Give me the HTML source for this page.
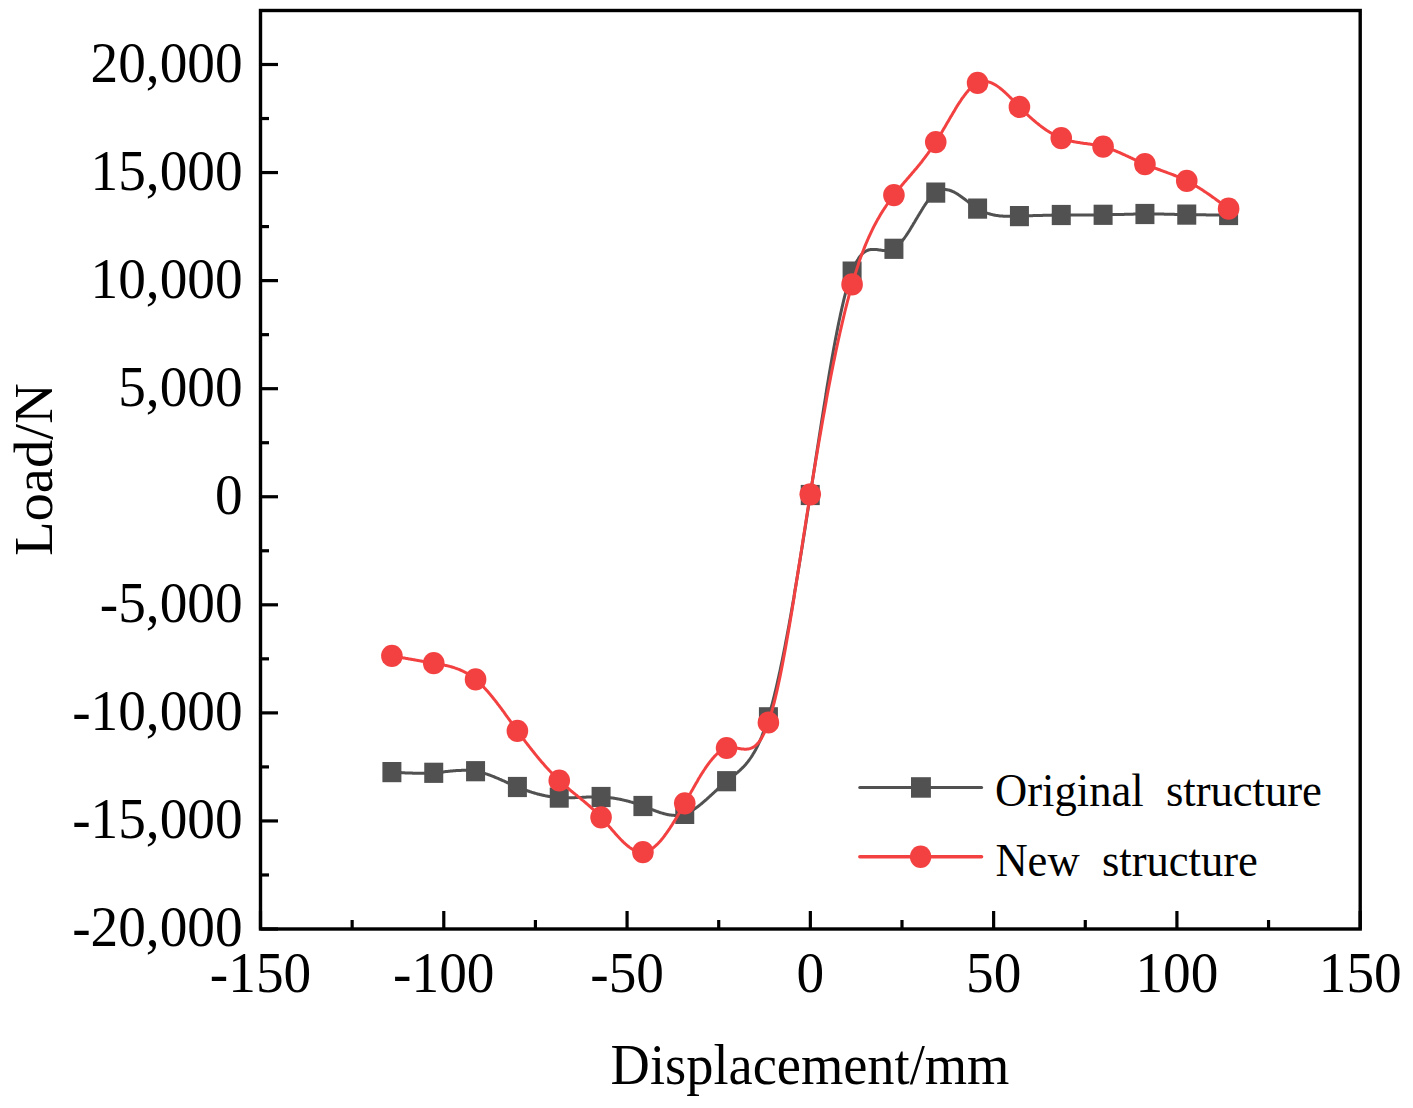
<!DOCTYPE html>
<html><head><meta charset="utf-8"><title>Load-Displacement</title>
<style>
html,body{margin:0;padding:0;background:#fff;}
body{width:1413px;height:1108px;overflow:hidden;font-family:"Liberation Serif",serif;}
svg{display:block;}
.t{font-family:"Liberation Serif",serif;fill:#000;}
</style></head><body>
<svg width="1413" height="1108" viewBox="0 0 1413 1108">
<rect x="0" y="0" width="1413" height="1108" fill="#fff"/>
<rect x="260.5" y="10.5" width="1099.7" height="918.5" fill="none" stroke="#000" stroke-width="3.4"/>
<line x1="260.5" y1="64.50" x2="278.0" y2="64.50" stroke="#000" stroke-width="3.2"/>
<line x1="260.5" y1="118.53" x2="269.0" y2="118.53" stroke="#000" stroke-width="3.2"/>
<line x1="260.5" y1="172.56" x2="278.0" y2="172.56" stroke="#000" stroke-width="3.2"/>
<line x1="260.5" y1="226.59" x2="269.0" y2="226.59" stroke="#000" stroke-width="3.2"/>
<line x1="260.5" y1="280.62" x2="278.0" y2="280.62" stroke="#000" stroke-width="3.2"/>
<line x1="260.5" y1="334.66" x2="269.0" y2="334.66" stroke="#000" stroke-width="3.2"/>
<line x1="260.5" y1="388.69" x2="278.0" y2="388.69" stroke="#000" stroke-width="3.2"/>
<line x1="260.5" y1="442.72" x2="269.0" y2="442.72" stroke="#000" stroke-width="3.2"/>
<line x1="260.5" y1="496.75" x2="278.0" y2="496.75" stroke="#000" stroke-width="3.2"/>
<line x1="260.5" y1="550.78" x2="269.0" y2="550.78" stroke="#000" stroke-width="3.2"/>
<line x1="260.5" y1="604.81" x2="278.0" y2="604.81" stroke="#000" stroke-width="3.2"/>
<line x1="260.5" y1="658.84" x2="269.0" y2="658.84" stroke="#000" stroke-width="3.2"/>
<line x1="260.5" y1="712.88" x2="278.0" y2="712.88" stroke="#000" stroke-width="3.2"/>
<line x1="260.5" y1="766.91" x2="269.0" y2="766.91" stroke="#000" stroke-width="3.2"/>
<line x1="260.5" y1="820.94" x2="278.0" y2="820.94" stroke="#000" stroke-width="3.2"/>
<line x1="260.5" y1="874.97" x2="269.0" y2="874.97" stroke="#000" stroke-width="3.2"/>
<line x1="260.5" y1="929.00" x2="278.0" y2="929.00" stroke="#000" stroke-width="3.2"/>
<text transform="translate(242.60,81.60) scale(1.0,1.05)" text-anchor="end" font-size="55.3" class="t">20,000</text>
<text transform="translate(242.60,189.66) scale(1.0,1.05)" text-anchor="end" font-size="55.3" class="t">15,000</text>
<text transform="translate(242.60,297.73) scale(1.0,1.05)" text-anchor="end" font-size="55.3" class="t">10,000</text>
<text transform="translate(242.60,405.79) scale(1.0,1.05)" text-anchor="end" font-size="55.3" class="t">5,000</text>
<text transform="translate(242.60,513.85) scale(1.0,1.05)" text-anchor="end" font-size="55.3" class="t">0</text>
<text transform="translate(242.60,621.91) scale(1.0,1.05)" text-anchor="end" font-size="55.3" class="t">-5,000</text>
<text transform="translate(242.60,729.98) scale(1.0,1.05)" text-anchor="end" font-size="55.3" class="t">-10,000</text>
<text transform="translate(242.60,838.04) scale(1.0,1.05)" text-anchor="end" font-size="55.3" class="t">-15,000</text>
<text transform="translate(242.60,946.10) scale(1.0,1.05)" text-anchor="end" font-size="55.3" class="t">-20,000</text>
<line x1="260.50" y1="929.0" x2="260.50" y2="911.0" stroke="#000" stroke-width="3.2"/>
<line x1="352.14" y1="929.0" x2="352.14" y2="920.0" stroke="#000" stroke-width="3.2"/>
<line x1="443.78" y1="929.0" x2="443.78" y2="911.0" stroke="#000" stroke-width="3.2"/>
<line x1="535.42" y1="929.0" x2="535.42" y2="920.0" stroke="#000" stroke-width="3.2"/>
<line x1="627.07" y1="929.0" x2="627.07" y2="911.0" stroke="#000" stroke-width="3.2"/>
<line x1="718.71" y1="929.0" x2="718.71" y2="920.0" stroke="#000" stroke-width="3.2"/>
<line x1="810.35" y1="929.0" x2="810.35" y2="911.0" stroke="#000" stroke-width="3.2"/>
<line x1="901.99" y1="929.0" x2="901.99" y2="920.0" stroke="#000" stroke-width="3.2"/>
<line x1="993.63" y1="929.0" x2="993.63" y2="911.0" stroke="#000" stroke-width="3.2"/>
<line x1="1085.28" y1="929.0" x2="1085.28" y2="920.0" stroke="#000" stroke-width="3.2"/>
<line x1="1176.92" y1="929.0" x2="1176.92" y2="911.0" stroke="#000" stroke-width="3.2"/>
<line x1="1268.56" y1="929.0" x2="1268.56" y2="920.0" stroke="#000" stroke-width="3.2"/>
<line x1="1360.20" y1="929.0" x2="1360.20" y2="911.0" stroke="#000" stroke-width="3.2"/>
<text transform="translate(260.50,992.20) scale(1.0,1.05)" text-anchor="middle" font-size="55.3" class="t">-150</text>
<text transform="translate(443.78,992.20) scale(1.0,1.05)" text-anchor="middle" font-size="55.3" class="t">-100</text>
<text transform="translate(627.07,992.20) scale(1.0,1.05)" text-anchor="middle" font-size="55.3" class="t">-50</text>
<text transform="translate(810.35,992.20) scale(1.0,1.05)" text-anchor="middle" font-size="55.3" class="t">0</text>
<text transform="translate(993.63,992.20) scale(1.0,1.05)" text-anchor="middle" font-size="55.3" class="t">50</text>
<text transform="translate(1176.92,992.20) scale(1.0,1.05)" text-anchor="middle" font-size="55.3" class="t">100</text>
<text transform="translate(1360.20,992.20) scale(1.0,1.05)" text-anchor="middle" font-size="55.3" class="t">150</text>
<text transform="translate(810.00,1083.90) scale(1.0,1.046)" text-anchor="middle" font-size="54.4" class="t">Displacement/mm</text>
<text transform="translate(52.30,469.60) rotate(-90) scale(1.02,1.0)" text-anchor="middle" font-size="55.5" class="t">Load/N</text>
<path d="M391.9,772.1 L392.6,772.1 L393.3,772.2 L394.0,772.2 L394.7,772.3 L395.4,772.3 L396.1,772.4 L396.8,772.4 L397.5,772.4 L398.2,772.5 L398.9,772.5 L399.6,772.6 L400.3,772.6 L401.0,772.6 L401.7,772.7 L402.4,772.7 L403.1,772.8 L403.8,772.8 L404.5,772.8 L405.2,772.9 L405.9,772.9 L406.6,772.9 L407.3,773.0 L408.0,773.0 L408.6,773.0 L409.3,773.0 L410.0,773.1 L410.7,773.1 L411.4,773.1 L412.1,773.1 L412.8,773.2 L413.5,773.2 L414.2,773.2 L414.9,773.2 L415.6,773.2 L416.3,773.2 L417.0,773.2 L417.7,773.3 L418.4,773.3 L419.1,773.3 L419.8,773.3 L420.5,773.3 L421.2,773.3 L421.9,773.3 L422.6,773.3 L423.3,773.2 L424.0,773.2 L424.7,773.2 L425.4,773.2 L426.1,773.2 L426.8,773.2 L427.5,773.1 L428.2,773.1 L428.9,773.1 L429.6,773.1 L430.3,773.0 L431.0,773.0 L431.7,772.9 L432.4,772.9 L433.1,772.8 L433.8,772.8 L434.5,772.7 L435.2,772.7 L435.9,772.6 L436.6,772.6 L437.3,772.5 L438.0,772.4 L438.7,772.4 L439.4,772.3 L440.1,772.2 L440.7,772.2 L441.4,772.1 L442.1,772.0 L442.8,771.9 L443.5,771.9 L444.2,771.8 L444.9,771.7 L445.6,771.6 L446.3,771.5 L447.0,771.5 L447.7,771.4 L448.4,771.3 L449.1,771.2 L449.8,771.2 L450.5,771.1 L451.2,771.0 L451.9,771.0 L452.6,770.9 L453.3,770.8 L454.0,770.8 L454.7,770.7 L455.4,770.7 L456.1,770.6 L456.8,770.6 L457.5,770.5 L458.2,770.5 L458.9,770.4 L459.6,770.4 L460.3,770.4 L461.0,770.4 L461.7,770.3 L462.4,770.3 L463.1,770.3 L463.8,770.3 L464.5,770.3 L465.2,770.3 L465.9,770.3 L466.6,770.3 L467.3,770.4 L468.0,770.4 L468.7,770.4 L469.4,770.5 L470.1,770.5 L470.8,770.6 L471.5,770.6 L472.2,770.7 L472.8,770.8 L473.5,770.9 L474.2,771.0 L474.9,771.1 L475.6,771.2 L476.3,771.3 L477.0,771.5 L477.7,771.6 L478.4,771.8 L479.1,771.9 L479.8,772.1 L480.5,772.3 L481.2,772.4 L481.9,772.6 L482.6,772.8 L483.3,773.0 L484.0,773.2 L484.7,773.4 L485.4,773.7 L486.1,773.9 L486.8,774.1 L487.5,774.3 L488.2,774.6 L488.9,774.8 L489.6,775.1 L490.3,775.3 L491.0,775.6 L491.7,775.9 L492.4,776.2 L493.1,776.4 L493.8,776.7 L494.5,777.0 L495.2,777.3 L495.9,777.6 L496.6,777.9 L497.3,778.2 L498.0,778.4 L498.7,778.7 L499.4,779.1 L500.1,779.4 L500.8,779.7 L501.5,780.0 L502.2,780.3 L502.9,780.6 L503.6,780.9 L504.3,781.2 L504.9,781.5 L505.6,781.8 L506.3,782.2 L507.0,782.5 L507.7,782.8 L508.4,783.1 L509.1,783.4 L509.8,783.7 L510.5,784.0 L511.2,784.3 L511.9,784.6 L512.6,785.0 L513.3,785.3 L514.0,785.6 L514.7,785.9 L515.4,786.2 L516.1,786.5 L516.8,786.8 L517.5,787.0 L518.2,787.3 L518.9,787.6 L519.6,787.9 L520.3,788.2 L521.0,788.4 L521.7,788.7 L522.4,789.0 L523.1,789.3 L523.8,789.5 L524.5,789.8 L525.2,790.0 L525.9,790.3 L526.6,790.5 L527.3,790.8 L528.0,791.0 L528.7,791.2 L529.4,791.5 L530.1,791.7 L530.8,791.9 L531.5,792.2 L532.2,792.4 L532.9,792.6 L533.6,792.8 L534.3,793.0 L535.0,793.2 L535.7,793.4 L536.4,793.6 L537.0,793.8 L537.7,794.0 L538.4,794.2 L539.1,794.3 L539.8,794.5 L540.5,794.7 L541.2,794.8 L541.9,795.0 L542.6,795.2 L543.3,795.3 L544.0,795.5 L544.7,795.6 L545.4,795.8 L546.1,795.9 L546.8,796.0 L547.5,796.2 L548.2,796.3 L548.9,796.4 L549.6,796.5 L550.3,796.6 L551.0,796.7 L551.7,796.8 L552.4,796.9 L553.1,797.0 L553.8,797.1 L554.5,797.2 L555.2,797.3 L555.9,797.3 L556.6,797.4 L557.3,797.5 L558.0,797.5 L558.7,797.6 L559.4,797.6 L560.1,797.7 L560.8,797.7 L561.5,797.7 L562.2,797.8 L562.9,797.8 L563.6,797.8 L564.3,797.8 L565.0,797.8 L565.7,797.8 L566.4,797.8 L567.1,797.8 L567.8,797.8 L568.5,797.8 L569.1,797.8 L569.8,797.8 L570.5,797.8 L571.2,797.8 L571.9,797.8 L572.6,797.7 L573.3,797.7 L574.0,797.7 L574.7,797.7 L575.4,797.6 L576.1,797.6 L576.8,797.6 L577.5,797.6 L578.2,797.5 L578.9,797.5 L579.6,797.5 L580.3,797.4 L581.0,797.4 L581.7,797.4 L582.4,797.3 L583.1,797.3 L583.8,797.3 L584.5,797.2 L585.2,797.2 L585.9,797.2 L586.6,797.1 L587.3,797.1 L588.0,797.1 L588.7,797.0 L589.4,797.0 L590.1,797.0 L590.8,797.0 L591.5,797.0 L592.2,796.9 L592.9,796.9 L593.6,796.9 L594.3,796.9 L595.0,796.9 L595.7,796.9 L596.4,796.9 L597.1,796.9 L597.8,796.9 L598.5,796.9 L599.2,796.9 L599.9,797.0 L600.6,797.0 L601.2,797.0 L601.9,797.0 L602.6,797.1 L603.3,797.1 L604.0,797.2 L604.7,797.2 L605.4,797.3 L606.1,797.3 L606.8,797.4 L607.5,797.4 L608.2,797.5 L608.9,797.6 L609.6,797.7 L610.3,797.8 L611.0,797.8 L611.7,797.9 L612.4,798.0 L613.1,798.1 L613.8,798.2 L614.5,798.3 L615.2,798.4 L615.9,798.6 L616.6,798.7 L617.3,798.8 L618.0,798.9 L618.7,799.1 L619.4,799.2 L620.1,799.3 L620.8,799.5 L621.5,799.6 L622.2,799.8 L622.9,799.9 L623.6,800.1 L624.3,800.3 L625.0,800.4 L625.7,800.6 L626.4,800.8 L627.1,801.0 L627.8,801.1 L628.5,801.3 L629.2,801.5 L629.9,801.7 L630.6,801.9 L631.3,802.1 L632.0,802.3 L632.7,802.5 L633.3,802.7 L634.0,802.9 L634.7,803.2 L635.4,803.4 L636.1,803.6 L636.8,803.8 L637.5,804.1 L638.2,804.3 L638.9,804.6 L639.6,804.8 L640.3,805.1 L641.0,805.3 L641.7,805.6 L642.4,805.8 L643.1,806.1 L643.8,806.3 L644.5,806.6 L645.2,806.9 L645.9,807.2 L646.6,807.4 L647.3,807.7 L648.0,808.0 L648.7,808.3 L649.4,808.5 L650.1,808.8 L650.8,809.1 L651.5,809.4 L652.2,809.6 L652.9,809.9 L653.6,810.2 L654.3,810.5 L655.0,810.7 L655.7,811.0 L656.4,811.2 L657.1,811.5 L657.8,811.7 L658.5,812.0 L659.2,812.2 L659.9,812.5 L660.6,812.7 L661.3,812.9 L662.0,813.1 L662.7,813.3 L663.4,813.5 L664.1,813.7 L664.8,813.9 L665.4,814.1 L666.1,814.2 L666.8,814.4 L667.5,814.5 L668.2,814.7 L668.9,814.8 L669.6,814.9 L670.3,815.0 L671.0,815.1 L671.7,815.2 L672.4,815.3 L673.1,815.3 L673.8,815.3 L674.5,815.4 L675.2,815.4 L675.9,815.4 L676.6,815.4 L677.3,815.3 L678.0,815.3 L678.7,815.2 L679.4,815.1 L680.1,815.0 L680.8,814.9 L681.5,814.8 L682.2,814.6 L682.9,814.4 L683.6,814.3 L684.3,814.0 L685.0,813.8 L685.7,813.6 L686.4,813.3 L687.1,813.0 L687.8,812.7 L688.5,812.4 L689.2,812.0 L689.9,811.7 L690.6,811.3 L691.3,810.9 L692.0,810.5 L692.7,810.1 L693.4,809.7 L694.1,809.2 L694.8,808.8 L695.5,808.3 L696.2,807.8 L696.9,807.3 L697.6,806.8 L698.2,806.3 L698.9,805.7 L699.6,805.2 L700.3,804.6 L701.0,804.1 L701.7,803.5 L702.4,802.9 L703.1,802.3 L703.8,801.7 L704.5,801.1 L705.2,800.5 L705.9,799.9 L706.6,799.3 L707.3,798.6 L708.0,798.0 L708.7,797.4 L709.4,796.7 L710.1,796.1 L710.8,795.4 L711.5,794.8 L712.2,794.2 L712.9,793.5 L713.6,792.9 L714.3,792.2 L715.0,791.6 L715.7,790.9 L716.4,790.3 L717.1,789.6 L717.8,789.0 L718.5,788.3 L719.2,787.7 L719.9,787.0 L720.6,786.4 L721.3,785.8 L722.0,785.2 L722.7,784.5 L723.4,783.9 L724.1,783.3 L724.8,782.7 L725.5,782.1 L726.2,781.5 L726.9,781.0 L727.6,780.4 L728.3,779.8 L729.0,779.3 L729.7,778.7 L730.3,778.2 L731.0,777.6 L731.7,777.1 L732.4,776.5 L733.1,776.0 L733.8,775.4 L734.5,774.9 L735.2,774.3 L735.9,773.8 L736.6,773.2 L737.3,772.6 L738.0,772.0 L738.7,771.4 L739.4,770.8 L740.1,770.1 L740.8,769.5 L741.5,768.8 L742.2,768.1 L742.9,767.4 L743.6,766.7 L744.3,765.9 L745.0,765.2 L745.7,764.4 L746.4,763.5 L747.1,762.7 L747.8,761.8 L748.5,760.9 L749.2,760.0 L749.9,759.0 L750.6,758.0 L751.3,757.0 L752.0,755.9 L752.7,754.8 L753.4,753.6 L754.1,752.4 L754.8,751.2 L755.5,750.0 L756.2,748.6 L756.9,747.3 L757.6,745.9 L758.3,744.4 L759.0,742.9 L759.7,741.4 L760.4,739.8 L761.1,738.2 L761.8,736.5 L762.4,734.7 L763.1,732.9 L763.8,731.0 L764.5,729.1 L765.2,727.1 L765.9,725.1 L766.6,723.0 L767.3,720.8 L768.0,718.6 L768.7,716.3 L769.4,713.9 L770.1,711.5 L770.8,709.0 L771.5,706.4 L772.2,703.8 L772.9,701.1 L773.6,698.4 L774.3,695.6 L775.0,692.7 L775.7,689.8 L776.4,686.8 L777.1,683.8 L777.8,680.7 L778.5,677.6 L779.2,674.4 L779.9,671.2 L780.6,667.9 L781.3,664.6 L782.0,661.2 L782.7,657.8 L783.4,654.3 L784.1,650.8 L784.8,647.2 L785.5,643.6 L786.2,639.9 L786.9,636.3 L787.6,632.5 L788.3,628.7 L789.0,624.9 L789.7,621.1 L790.4,617.2 L791.1,613.3 L791.8,609.3 L792.5,605.3 L793.2,601.3 L793.9,597.2 L794.5,593.1 L795.2,589.0 L795.9,584.9 L796.6,580.7 L797.3,576.5 L798.0,572.3 L798.7,568.0 L799.4,563.7 L800.1,559.4 L800.8,555.1 L801.5,550.8 L802.2,546.4 L802.9,542.0 L803.6,537.6 L804.3,533.2 L805.0,528.7 L805.7,524.3 L806.4,519.8 L807.1,515.3 L807.8,510.8 L808.5,506.3 L809.2,501.8 L809.9,497.3 L810.6,492.7 L811.3,488.2 L812.0,483.6 L812.7,479.1 L813.4,474.5 L814.1,470.0 L814.8,465.4 L815.5,460.8 L816.2,456.3 L816.9,451.7 L817.6,447.2 L818.3,442.7 L819.0,438.2 L819.7,433.7 L820.4,429.2 L821.1,424.7 L821.8,420.3 L822.5,415.9 L823.2,411.4 L823.9,407.1 L824.6,402.7 L825.3,398.4 L826.0,394.1 L826.6,389.8 L827.3,385.6 L828.0,381.4 L828.7,377.3 L829.4,373.1 L830.1,369.1 L830.8,365.0 L831.5,361.0 L832.2,357.1 L832.9,353.2 L833.6,349.3 L834.3,345.5 L835.0,341.8 L835.7,338.1 L836.4,334.5 L837.1,330.9 L837.8,327.4 L838.5,323.9 L839.2,320.5 L839.9,317.2 L840.6,313.9 L841.3,310.8 L842.0,307.6 L842.7,304.6 L843.4,301.6 L844.1,298.7 L844.8,295.9 L845.5,293.2 L846.2,290.5 L846.9,288.0 L847.6,285.5 L848.3,283.1 L849.0,280.8 L849.7,278.5 L850.4,276.4 L851.1,274.4 L851.8,272.4 L852.5,270.6 L853.2,268.9 L853.9,267.2 L854.6,265.7 L855.3,264.2 L856.0,262.8 L856.7,261.5 L857.4,260.3 L858.1,259.2 L858.7,258.1 L859.4,257.1 L860.1,256.2 L860.8,255.4 L861.5,254.6 L862.2,253.9 L862.9,253.2 L863.6,252.7 L864.3,252.1 L865.0,251.7 L865.7,251.2 L866.4,250.9 L867.1,250.5 L867.8,250.3 L868.5,250.0 L869.2,249.8 L869.9,249.7 L870.6,249.6 L871.3,249.5 L872.0,249.4 L872.7,249.4 L873.4,249.4 L874.1,249.4 L874.8,249.4 L875.5,249.5 L876.2,249.5 L876.9,249.6 L877.6,249.7 L878.3,249.8 L879.0,249.9 L879.7,250.0 L880.4,250.1 L881.1,250.2 L881.8,250.3 L882.5,250.4 L883.2,250.5 L883.9,250.6 L884.6,250.6 L885.3,250.7 L886.0,250.7 L886.7,250.7 L887.4,250.7 L888.1,250.6 L888.8,250.6 L889.5,250.4 L890.2,250.3 L890.8,250.1 L891.5,249.9 L892.2,249.6 L892.9,249.3 L893.6,249.0 L894.3,248.6 L895.0,248.1 L895.7,247.6 L896.4,247.0 L897.1,246.5 L897.8,245.8 L898.5,245.1 L899.2,244.4 L899.9,243.7 L900.6,242.9 L901.3,242.1 L902.0,241.2 L902.7,240.3 L903.4,239.4 L904.1,238.5 L904.8,237.5 L905.5,236.5 L906.2,235.5 L906.9,234.4 L907.6,233.4 L908.3,232.3 L909.0,231.2 L909.7,230.1 L910.4,228.9 L911.1,227.8 L911.8,226.6 L912.5,225.5 L913.2,224.3 L913.9,223.1 L914.6,222.0 L915.3,220.8 L916.0,219.6 L916.7,218.4 L917.4,217.3 L918.1,216.1 L918.8,214.9 L919.5,213.8 L920.2,212.6 L920.9,211.5 L921.6,210.3 L922.3,209.2 L922.9,208.1 L923.6,207.0 L924.3,206.0 L925.0,204.9 L925.7,203.9 L926.4,202.9 L927.1,201.9 L927.8,201.0 L928.5,200.1 L929.2,199.2 L929.9,198.3 L930.6,197.5 L931.3,196.7 L932.0,196.0 L932.7,195.2 L933.4,194.6 L934.1,193.9 L934.8,193.3 L935.5,192.8 L936.2,192.3 L936.9,191.8 L937.6,191.4 L938.3,191.0 L939.0,190.7 L939.7,190.4 L940.4,190.2 L941.1,190.0 L941.8,189.8 L942.5,189.7 L943.2,189.6 L943.9,189.5 L944.6,189.5 L945.3,189.5 L946.0,189.6 L946.7,189.7 L947.4,189.8 L948.1,189.9 L948.8,190.1 L949.5,190.2 L950.2,190.5 L950.9,190.7 L951.6,191.0 L952.3,191.3 L953.0,191.6 L953.7,191.9 L954.4,192.3 L955.1,192.6 L955.7,193.0 L956.4,193.4 L957.1,193.9 L957.8,194.3 L958.5,194.8 L959.2,195.2 L959.9,195.7 L960.6,196.2 L961.3,196.7 L962.0,197.2 L962.7,197.7 L963.4,198.2 L964.1,198.7 L964.8,199.3 L965.5,199.8 L966.2,200.4 L966.9,200.9 L967.6,201.4 L968.3,202.0 L969.0,202.5 L969.7,203.0 L970.4,203.6 L971.1,204.1 L971.8,204.6 L972.5,205.1 L973.2,205.6 L973.9,206.1 L974.6,206.6 L975.3,207.1 L976.0,207.6 L976.7,208.0 L977.4,208.5 L978.1,208.9 L978.8,209.3 L979.5,209.7 L980.2,210.1 L980.9,210.4 L981.6,210.8 L982.3,211.1 L983.0,211.5 L983.7,211.8 L984.4,212.1 L985.1,212.4 L985.8,212.6 L986.5,212.9 L987.2,213.1 L987.8,213.4 L988.5,213.6 L989.2,213.8 L989.9,214.0 L990.6,214.2 L991.3,214.4 L992.0,214.6 L992.7,214.7 L993.4,214.9 L994.1,215.0 L994.8,215.2 L995.5,215.3 L996.2,215.4 L996.9,215.5 L997.6,215.6 L998.3,215.7 L999.0,215.8 L999.7,215.9 L1000.4,216.0 L1001.1,216.0 L1001.8,216.1 L1002.5,216.1 L1003.2,216.2 L1003.9,216.2 L1004.6,216.2 L1005.3,216.3 L1006.0,216.3 L1006.7,216.3 L1007.4,216.3 L1008.1,216.3 L1008.8,216.3 L1009.5,216.3 L1010.2,216.3 L1010.9,216.3 L1011.6,216.3 L1012.3,216.3 L1013.0,216.3 L1013.7,216.3 L1014.4,216.3 L1015.1,216.2 L1015.8,216.2 L1016.5,216.2 L1017.2,216.2 L1017.9,216.2 L1018.6,216.1 L1019.3,216.1 L1019.9,216.1 L1020.6,216.1 L1021.3,216.0 L1022.0,216.0 L1022.7,216.0 L1023.4,216.0 L1024.1,215.9 L1024.8,215.9 L1025.5,215.9 L1026.2,215.9 L1026.9,215.8 L1027.6,215.8 L1028.3,215.8 L1029.0,215.8 L1029.7,215.7 L1030.4,215.7 L1031.1,215.7 L1031.8,215.7 L1032.5,215.7 L1033.2,215.6 L1033.9,215.6 L1034.6,215.6 L1035.3,215.6 L1036.0,215.5 L1036.7,215.5 L1037.4,215.5 L1038.1,215.5 L1038.8,215.5 L1039.5,215.4 L1040.2,215.4 L1040.9,215.4 L1041.6,215.4 L1042.3,215.4 L1043.0,215.3 L1043.7,215.3 L1044.4,215.3 L1045.1,215.3 L1045.8,215.3 L1046.5,215.3 L1047.2,215.2 L1047.9,215.2 L1048.6,215.2 L1049.3,215.2 L1050.0,215.2 L1050.7,215.2 L1051.4,215.2 L1052.0,215.1 L1052.7,215.1 L1053.4,215.1 L1054.1,215.1 L1054.8,215.1 L1055.5,215.1 L1056.2,215.1 L1056.9,215.1 L1057.6,215.0 L1058.3,215.0 L1059.0,215.0 L1059.7,215.0 L1060.4,215.0 L1061.1,215.0 L1061.8,215.0 L1062.5,215.0 L1063.2,215.0 L1063.9,215.0 L1064.6,215.0 L1065.3,215.0 L1066.0,215.0 L1066.7,215.0 L1067.4,215.0 L1068.1,214.9 L1068.8,214.9 L1069.5,214.9 L1070.2,214.9 L1070.9,214.9 L1071.6,214.9 L1072.3,214.9 L1073.0,214.9 L1073.7,214.9 L1074.4,214.9 L1075.1,214.9 L1075.8,214.9 L1076.5,214.9 L1077.2,214.9 L1077.9,214.9 L1078.6,214.9 L1079.3,214.9 L1080.0,214.9 L1080.7,214.9 L1081.4,214.9 L1082.1,214.9 L1082.8,214.9 L1083.5,214.9 L1084.1,214.9 L1084.8,214.9 L1085.5,214.9 L1086.2,214.9 L1086.9,214.9 L1087.6,214.9 L1088.3,214.9 L1089.0,214.9 L1089.7,214.9 L1090.4,214.9 L1091.1,214.9 L1091.8,214.9 L1092.5,214.9 L1093.2,214.9 L1093.9,214.9 L1094.6,214.9 L1095.3,214.9 L1096.0,214.9 L1096.7,214.9 L1097.4,214.9 L1098.1,214.9 L1098.8,214.9 L1099.5,214.8 L1100.2,214.8 L1100.9,214.8 L1101.6,214.8 L1102.3,214.8 L1103.0,214.8 L1103.7,214.8 L1104.4,214.8 L1105.1,214.8 L1105.8,214.8 L1106.5,214.7 L1107.2,214.7 L1107.9,214.7 L1108.6,214.7 L1109.3,214.7 L1110.0,214.7 L1110.7,214.7 L1111.4,214.6 L1112.1,214.6 L1112.8,214.6 L1113.5,214.6 L1114.2,214.6 L1114.9,214.6 L1115.6,214.6 L1116.2,214.5 L1116.9,214.5 L1117.6,214.5 L1118.3,214.5 L1119.0,214.5 L1119.7,214.5 L1120.4,214.4 L1121.1,214.4 L1121.8,214.4 L1122.5,214.4 L1123.2,214.4 L1123.9,214.4 L1124.6,214.3 L1125.3,214.3 L1126.0,214.3 L1126.7,214.3 L1127.4,214.3 L1128.1,214.3 L1128.8,214.2 L1129.5,214.2 L1130.2,214.2 L1130.9,214.2 L1131.6,214.2 L1132.3,214.2 L1133.0,214.2 L1133.7,214.1 L1134.4,214.1 L1135.1,214.1 L1135.8,214.1 L1136.5,214.1 L1137.2,214.1 L1137.9,214.1 L1138.6,214.1 L1139.3,214.0 L1140.0,214.0 L1140.7,214.0 L1141.4,214.0 L1142.1,214.0 L1142.8,214.0 L1143.5,214.0 L1144.2,214.0 L1144.9,214.0 L1145.6,214.0 L1146.3,214.0 L1147.0,214.0 L1147.7,214.0 L1148.3,214.0 L1149.0,214.0 L1149.7,214.0 L1150.4,214.0 L1151.1,214.0 L1151.8,214.0 L1152.5,214.0 L1153.2,214.0 L1153.9,214.0 L1154.6,214.0 L1155.3,214.0 L1156.0,214.0 L1156.7,214.0 L1157.4,214.1 L1158.1,214.1 L1158.8,214.1 L1159.5,214.1 L1160.2,214.1 L1160.9,214.1 L1161.6,214.1 L1162.3,214.1 L1163.0,214.1 L1163.7,214.1 L1164.4,214.2 L1165.1,214.2 L1165.8,214.2 L1166.5,214.2 L1167.2,214.2 L1167.9,214.2 L1168.6,214.2 L1169.3,214.2 L1170.0,214.3 L1170.7,214.3 L1171.4,214.3 L1172.1,214.3 L1172.8,214.3 L1173.5,214.3 L1174.2,214.3 L1174.9,214.4 L1175.6,214.4 L1176.3,214.4 L1177.0,214.4 L1177.7,214.4 L1178.4,214.4 L1179.1,214.5 L1179.8,214.5 L1180.4,214.5 L1181.1,214.5 L1181.8,214.5 L1182.5,214.5 L1183.2,214.5 L1183.9,214.5 L1184.6,214.6 L1185.3,214.6 L1186.0,214.6 L1186.7,214.6 L1187.4,214.6 L1188.1,214.6 L1188.8,214.6 L1189.5,214.6 L1190.2,214.7 L1190.9,214.7 L1191.6,214.7 L1192.3,214.7 L1193.0,214.7 L1193.7,214.7 L1194.4,214.7 L1195.1,214.7 L1195.8,214.7 L1196.5,214.7 L1197.2,214.8 L1197.9,214.8 L1198.6,214.8 L1199.3,214.8 L1200.0,214.8 L1200.7,214.8 L1201.4,214.8 L1202.1,214.8 L1202.8,214.8 L1203.5,214.8 L1204.2,214.8 L1204.9,214.8 L1205.6,214.8 L1206.3,214.9 L1207.0,214.9 L1207.7,214.9 L1208.4,214.9 L1209.1,214.9 L1209.8,214.9 L1210.5,214.9 L1211.2,214.9 L1211.9,214.9 L1212.5,214.9 L1213.2,214.9 L1213.9,214.9 L1214.6,214.9 L1215.3,214.9 L1216.0,214.9 L1216.7,214.9 L1217.4,214.9 L1218.1,214.9 L1218.8,214.9 L1219.5,214.9 L1220.2,215.0 L1220.9,215.0 L1221.6,215.0 L1222.3,215.0 L1223.0,215.0 L1223.7,215.0 L1224.4,215.0 L1225.1,215.0 L1225.8,215.0 L1226.5,215.0 L1227.2,215.0 L1227.9,215.0 L1228.6,215.0" fill="none" stroke="#515151" stroke-width="3.0" stroke-linejoin="round" stroke-linecap="round"/>
<rect x="382.40" y="762.00" width="19.0" height="20.2" fill="#515151"/>
<rect x="424.24" y="762.70" width="19.0" height="20.2" fill="#515151"/>
<rect x="466.07" y="761.10" width="19.0" height="20.2" fill="#515151"/>
<rect x="507.90" y="776.90" width="19.0" height="20.2" fill="#515151"/>
<rect x="549.74" y="787.50" width="19.0" height="20.2" fill="#515151"/>
<rect x="591.58" y="786.90" width="19.0" height="20.2" fill="#515151"/>
<rect x="633.41" y="795.90" width="19.0" height="20.2" fill="#515151"/>
<rect x="675.25" y="803.80" width="19.0" height="20.2" fill="#515151"/>
<rect x="717.08" y="771.10" width="19.0" height="20.2" fill="#515151"/>
<rect x="758.91" y="707.20" width="19.0" height="20.2" fill="#515151"/>
<rect x="800.75" y="484.90" width="19.0" height="20.2" fill="#515151"/>
<rect x="842.59" y="261.50" width="19.0" height="20.2" fill="#515151"/>
<rect x="884.42" y="238.70" width="19.0" height="20.2" fill="#515151"/>
<rect x="926.25" y="182.50" width="19.0" height="20.2" fill="#515151"/>
<rect x="968.09" y="198.50" width="19.0" height="20.2" fill="#515151"/>
<rect x="1009.92" y="206.00" width="19.0" height="20.2" fill="#515151"/>
<rect x="1051.76" y="204.90" width="19.0" height="20.2" fill="#515151"/>
<rect x="1093.60" y="204.70" width="19.0" height="20.2" fill="#515151"/>
<rect x="1135.43" y="203.90" width="19.0" height="20.2" fill="#515151"/>
<rect x="1177.26" y="204.50" width="19.0" height="20.2" fill="#515151"/>
<rect x="1219.10" y="204.90" width="19.0" height="20.2" fill="#515151"/>
<path d="M391.9,655.9 L392.6,656.0 L393.3,656.1 L394.0,656.3 L394.7,656.4 L395.4,656.5 L396.1,656.6 L396.8,656.8 L397.5,656.9 L398.2,657.0 L398.9,657.1 L399.6,657.3 L400.3,657.4 L401.0,657.5 L401.7,657.6 L402.4,657.7 L403.1,657.9 L403.8,658.0 L404.5,658.1 L405.2,658.2 L405.9,658.4 L406.6,658.5 L407.3,658.6 L408.0,658.7 L408.6,658.9 L409.3,659.0 L410.0,659.1 L410.7,659.2 L411.4,659.3 L412.1,659.5 L412.8,659.6 L413.5,659.7 L414.2,659.8 L414.9,660.0 L415.6,660.1 L416.3,660.2 L417.0,660.3 L417.7,660.4 L418.4,660.6 L419.1,660.7 L419.8,660.8 L420.5,660.9 L421.2,661.0 L421.9,661.2 L422.6,661.3 L423.3,661.4 L424.0,661.5 L424.7,661.7 L425.4,661.8 L426.1,661.9 L426.8,662.0 L427.5,662.1 L428.2,662.3 L428.9,662.4 L429.6,662.5 L430.3,662.6 L431.0,662.7 L431.7,662.8 L432.4,663.0 L433.1,663.1 L433.8,663.2 L434.5,663.3 L435.2,663.4 L435.9,663.6 L436.6,663.7 L437.3,663.8 L438.0,663.9 L438.7,664.0 L439.4,664.2 L440.1,664.3 L440.7,664.4 L441.4,664.6 L442.1,664.7 L442.8,664.8 L443.5,665.0 L444.2,665.1 L444.9,665.3 L445.6,665.4 L446.3,665.6 L447.0,665.7 L447.7,665.9 L448.4,666.1 L449.1,666.2 L449.8,666.4 L450.5,666.6 L451.2,666.8 L451.9,667.0 L452.6,667.2 L453.3,667.4 L454.0,667.6 L454.7,667.9 L455.4,668.1 L456.1,668.4 L456.8,668.6 L457.5,668.9 L458.2,669.1 L458.9,669.4 L459.6,669.7 L460.3,670.0 L461.0,670.3 L461.7,670.6 L462.4,670.9 L463.1,671.3 L463.8,671.6 L464.5,672.0 L465.2,672.4 L465.9,672.7 L466.6,673.1 L467.3,673.5 L468.0,674.0 L468.7,674.4 L469.4,674.8 L470.1,675.3 L470.8,675.8 L471.5,676.2 L472.2,676.7 L472.8,677.3 L473.5,677.8 L474.2,678.3 L474.9,678.9 L475.6,679.5 L476.3,680.0 L477.0,680.6 L477.7,681.3 L478.4,681.9 L479.1,682.5 L479.8,683.2 L480.5,683.9 L481.2,684.6 L481.9,685.3 L482.6,686.0 L483.3,686.7 L484.0,687.4 L484.7,688.2 L485.4,688.9 L486.1,689.7 L486.8,690.5 L487.5,691.3 L488.2,692.1 L488.9,692.9 L489.6,693.7 L490.3,694.6 L491.0,695.4 L491.7,696.3 L492.4,697.1 L493.1,698.0 L493.8,698.9 L494.5,699.7 L495.2,700.6 L495.9,701.5 L496.6,702.4 L497.3,703.3 L498.0,704.3 L498.7,705.2 L499.4,706.1 L500.1,707.0 L500.8,708.0 L501.5,708.9 L502.2,709.8 L502.9,710.8 L503.6,711.7 L504.3,712.7 L504.9,713.7 L505.6,714.6 L506.3,715.6 L507.0,716.5 L507.7,717.5 L508.4,718.5 L509.1,719.4 L509.8,720.4 L510.5,721.4 L511.2,722.4 L511.9,723.3 L512.6,724.3 L513.3,725.3 L514.0,726.2 L514.7,727.2 L515.4,728.2 L516.1,729.1 L516.8,730.1 L517.5,731.0 L518.2,732.0 L518.9,732.9 L519.6,733.9 L520.3,734.8 L521.0,735.8 L521.7,736.7 L522.4,737.7 L523.1,738.6 L523.8,739.5 L524.5,740.4 L525.2,741.4 L525.9,742.3 L526.6,743.2 L527.3,744.1 L528.0,745.0 L528.7,745.9 L529.4,746.8 L530.1,747.7 L530.8,748.6 L531.5,749.5 L532.2,750.4 L532.9,751.3 L533.6,752.1 L534.3,753.0 L535.0,753.9 L535.7,754.7 L536.4,755.6 L537.0,756.4 L537.7,757.3 L538.4,758.1 L539.1,758.9 L539.8,759.8 L540.5,760.6 L541.2,761.4 L541.9,762.2 L542.6,763.0 L543.3,763.8 L544.0,764.6 L544.7,765.4 L545.4,766.2 L546.1,767.0 L546.8,767.8 L547.5,768.5 L548.2,769.3 L548.9,770.1 L549.6,770.8 L550.3,771.5 L551.0,772.3 L551.7,773.0 L552.4,773.7 L553.1,774.5 L553.8,775.2 L554.5,775.9 L555.2,776.6 L555.9,777.3 L556.6,778.0 L557.3,778.6 L558.0,779.3 L558.7,780.0 L559.4,780.6 L560.1,781.3 L560.8,781.9 L561.5,782.6 L562.2,783.2 L562.9,783.8 L563.6,784.4 L564.3,785.1 L565.0,785.7 L565.7,786.3 L566.4,786.9 L567.1,787.5 L567.8,788.0 L568.5,788.6 L569.1,789.2 L569.8,789.8 L570.5,790.4 L571.2,791.0 L571.9,791.5 L572.6,792.1 L573.3,792.7 L574.0,793.2 L574.7,793.8 L575.4,794.4 L576.1,794.9 L576.8,795.5 L577.5,796.1 L578.2,796.6 L578.9,797.2 L579.6,797.8 L580.3,798.3 L581.0,798.9 L581.7,799.5 L582.4,800.1 L583.1,800.6 L583.8,801.2 L584.5,801.8 L585.2,802.4 L585.9,803.0 L586.6,803.6 L587.3,804.2 L588.0,804.8 L588.7,805.4 L589.4,806.0 L590.1,806.6 L590.8,807.3 L591.5,807.9 L592.2,808.5 L592.9,809.2 L593.6,809.8 L594.3,810.5 L595.0,811.1 L595.7,811.8 L596.4,812.5 L597.1,813.2 L597.8,813.9 L598.5,814.6 L599.2,815.3 L599.9,816.0 L600.6,816.7 L601.2,817.5 L601.9,818.2 L602.6,819.0 L603.3,819.8 L604.0,820.6 L604.7,821.3 L605.4,822.1 L606.1,822.9 L606.8,823.7 L607.5,824.5 L608.2,825.3 L608.9,826.2 L609.6,827.0 L610.3,827.8 L611.0,828.6 L611.7,829.4 L612.4,830.2 L613.1,831.0 L613.8,831.8 L614.5,832.6 L615.2,833.4 L615.9,834.2 L616.6,835.0 L617.3,835.8 L618.0,836.5 L618.7,837.3 L619.4,838.0 L620.1,838.8 L620.8,839.5 L621.5,840.2 L622.2,840.9 L622.9,841.6 L623.6,842.3 L624.3,842.9 L625.0,843.6 L625.7,844.2 L626.4,844.8 L627.1,845.4 L627.8,846.0 L628.5,846.5 L629.2,847.1 L629.9,847.6 L630.6,848.1 L631.3,848.5 L632.0,849.0 L632.7,849.4 L633.3,849.8 L634.0,850.1 L634.7,850.5 L635.4,850.8 L636.1,851.1 L636.8,851.3 L637.5,851.6 L638.2,851.8 L638.9,851.9 L639.6,852.0 L640.3,852.1 L641.0,852.2 L641.7,852.2 L642.4,852.2 L643.1,852.2 L643.8,852.1 L644.5,852.0 L645.2,851.8 L645.9,851.6 L646.6,851.4 L647.3,851.2 L648.0,850.9 L648.7,850.6 L649.4,850.2 L650.1,849.8 L650.8,849.4 L651.5,849.0 L652.2,848.5 L652.9,848.0 L653.6,847.5 L654.3,846.9 L655.0,846.3 L655.7,845.7 L656.4,845.0 L657.1,844.4 L657.8,843.7 L658.5,843.0 L659.2,842.2 L659.9,841.5 L660.6,840.7 L661.3,839.9 L662.0,839.0 L662.7,838.2 L663.4,837.3 L664.1,836.4 L664.8,835.5 L665.4,834.5 L666.1,833.6 L666.8,832.6 L667.5,831.6 L668.2,830.6 L668.9,829.6 L669.6,828.6 L670.3,827.5 L671.0,826.4 L671.7,825.4 L672.4,824.3 L673.1,823.1 L673.8,822.0 L674.5,820.9 L675.2,819.7 L675.9,818.6 L676.6,817.4 L677.3,816.3 L678.0,815.1 L678.7,813.9 L679.4,812.7 L680.1,811.5 L680.8,810.3 L681.5,809.0 L682.2,807.8 L682.9,806.6 L683.6,805.3 L684.3,804.1 L685.0,802.9 L685.7,801.6 L686.4,800.4 L687.1,799.1 L687.8,797.9 L688.5,796.6 L689.2,795.4 L689.9,794.1 L690.6,792.9 L691.3,791.6 L692.0,790.4 L692.7,789.2 L693.4,787.9 L694.1,786.7 L694.8,785.5 L695.5,784.3 L696.2,783.1 L696.9,781.9 L697.6,780.7 L698.2,779.5 L698.9,778.3 L699.6,777.2 L700.3,776.0 L701.0,774.9 L701.7,773.8 L702.4,772.7 L703.1,771.6 L703.8,770.5 L704.5,769.5 L705.2,768.4 L705.9,767.4 L706.6,766.4 L707.3,765.4 L708.0,764.4 L708.7,763.5 L709.4,762.5 L710.1,761.6 L710.8,760.7 L711.5,759.9 L712.2,759.0 L712.9,758.2 L713.6,757.4 L714.3,756.6 L715.0,755.9 L715.7,755.2 L716.4,754.5 L717.1,753.8 L717.8,753.2 L718.5,752.6 L719.2,752.0 L719.9,751.5 L720.6,751.0 L721.3,750.5 L722.0,750.1 L722.7,749.6 L723.4,749.3 L724.1,748.9 L724.8,748.6 L725.5,748.4 L726.2,748.1 L726.9,747.9 L727.6,747.8 L728.3,747.6 L729.0,747.6 L729.7,747.5 L730.3,747.5 L731.0,747.5 L731.7,747.5 L732.4,747.5 L733.1,747.6 L733.8,747.6 L734.5,747.7 L735.2,747.8 L735.9,747.9 L736.6,748.0 L737.3,748.2 L738.0,748.3 L738.7,748.4 L739.4,748.5 L740.1,748.7 L740.8,748.8 L741.5,748.9 L742.2,749.0 L742.9,749.0 L743.6,749.1 L744.3,749.2 L745.0,749.2 L745.7,749.2 L746.4,749.2 L747.1,749.1 L747.8,749.0 L748.5,748.9 L749.2,748.8 L749.9,748.6 L750.6,748.4 L751.3,748.1 L752.0,747.8 L752.7,747.5 L753.4,747.1 L754.1,746.6 L754.8,746.1 L755.5,745.6 L756.2,744.9 L756.9,744.3 L757.6,743.5 L758.3,742.7 L759.0,741.9 L759.7,741.0 L760.4,739.9 L761.1,738.9 L761.8,737.7 L762.4,736.5 L763.1,735.2 L763.8,733.8 L764.5,732.3 L765.2,730.8 L765.9,729.1 L766.6,727.4 L767.3,725.5 L768.0,723.6 L768.7,721.6 L769.4,719.4 L770.1,717.2 L770.8,714.9 L771.5,712.5 L772.2,710.0 L772.9,707.4 L773.6,704.7 L774.3,702.0 L775.0,699.1 L775.7,696.2 L776.4,693.2 L777.1,690.1 L777.8,686.9 L778.5,683.7 L779.2,680.4 L779.9,677.1 L780.6,673.6 L781.3,670.1 L782.0,666.6 L782.7,663.0 L783.4,659.3 L784.1,655.5 L784.8,651.8 L785.5,647.9 L786.2,644.0 L786.9,640.1 L787.6,636.1 L788.3,632.1 L789.0,628.0 L789.7,623.9 L790.4,619.8 L791.1,615.6 L791.8,611.4 L792.5,607.1 L793.2,602.8 L793.9,598.5 L794.5,594.2 L795.2,589.8 L795.9,585.5 L796.6,581.1 L797.3,576.7 L798.0,572.2 L798.7,567.8 L799.4,563.3 L800.1,558.9 L800.8,554.4 L801.5,549.9 L802.2,545.4 L802.9,540.9 L803.6,536.5 L804.3,532.0 L805.0,527.5 L805.7,523.0 L806.4,518.6 L807.1,514.1 L807.8,509.7 L808.5,505.3 L809.2,500.9 L809.9,496.5 L810.6,492.1 L811.3,487.8 L812.0,483.5 L812.7,479.2 L813.4,474.9 L814.1,470.6 L814.8,466.4 L815.5,462.2 L816.2,458.0 L816.9,453.9 L817.6,449.7 L818.3,445.6 L819.0,441.5 L819.7,437.5 L820.4,433.5 L821.1,429.5 L821.8,425.5 L822.5,421.6 L823.2,417.6 L823.9,413.8 L824.6,409.9 L825.3,406.1 L826.0,402.3 L826.6,398.5 L827.3,394.8 L828.0,391.0 L828.7,387.4 L829.4,383.7 L830.1,380.1 L830.8,376.5 L831.5,373.0 L832.2,369.4 L832.9,366.0 L833.6,362.5 L834.3,359.1 L835.0,355.7 L835.7,352.3 L836.4,349.0 L837.1,345.7 L837.8,342.5 L838.5,339.3 L839.2,336.1 L839.9,333.0 L840.6,329.9 L841.3,326.8 L842.0,323.8 L842.7,320.8 L843.4,317.8 L844.1,314.9 L844.8,312.0 L845.5,309.2 L846.2,306.4 L846.9,303.6 L847.6,300.9 L848.3,298.3 L849.0,295.6 L849.7,293.0 L850.4,290.5 L851.1,288.0 L851.8,285.5 L852.5,283.1 L853.2,280.7 L853.9,278.3 L854.6,276.1 L855.3,273.8 L856.0,271.6 L856.7,269.4 L857.4,267.3 L858.1,265.2 L858.7,263.1 L859.4,261.1 L860.1,259.1 L860.8,257.1 L861.5,255.2 L862.2,253.3 L862.9,251.5 L863.6,249.7 L864.3,247.9 L865.0,246.1 L865.7,244.4 L866.4,242.7 L867.1,241.1 L867.8,239.5 L868.5,237.9 L869.2,236.3 L869.9,234.8 L870.6,233.3 L871.3,231.8 L872.0,230.3 L872.7,228.9 L873.4,227.5 L874.1,226.1 L874.8,224.8 L875.5,223.5 L876.2,222.2 L876.9,220.9 L877.6,219.6 L878.3,218.4 L879.0,217.2 L879.7,216.0 L880.4,214.8 L881.1,213.6 L881.8,212.5 L882.5,211.4 L883.2,210.3 L883.9,209.2 L884.6,208.1 L885.3,207.1 L886.0,206.0 L886.7,205.0 L887.4,204.0 L888.1,203.0 L888.8,202.0 L889.5,201.1 L890.2,200.1 L890.8,199.1 L891.5,198.2 L892.2,197.3 L892.9,196.4 L893.6,195.5 L894.3,194.6 L895.0,193.7 L895.7,192.8 L896.4,191.9 L897.1,191.0 L897.8,190.2 L898.5,189.3 L899.2,188.5 L899.9,187.6 L900.6,186.8 L901.3,185.9 L902.0,185.1 L902.7,184.3 L903.4,183.4 L904.1,182.6 L904.8,181.8 L905.5,181.0 L906.2,180.2 L906.9,179.3 L907.6,178.5 L908.3,177.7 L909.0,176.9 L909.7,176.1 L910.4,175.3 L911.1,174.5 L911.8,173.6 L912.5,172.8 L913.2,172.0 L913.9,171.2 L914.6,170.3 L915.3,169.5 L916.0,168.7 L916.7,167.9 L917.4,167.0 L918.1,166.2 L918.8,165.3 L919.5,164.5 L920.2,163.6 L920.9,162.7 L921.6,161.9 L922.3,161.0 L922.9,160.1 L923.6,159.2 L924.3,158.3 L925.0,157.4 L925.7,156.5 L926.4,155.5 L927.1,154.6 L927.8,153.7 L928.5,152.7 L929.2,151.7 L929.9,150.8 L930.6,149.8 L931.3,148.8 L932.0,147.7 L932.7,146.7 L933.4,145.7 L934.1,144.6 L934.8,143.6 L935.5,142.5 L936.2,141.4 L936.9,140.3 L937.6,139.2 L938.3,138.0 L939.0,136.9 L939.7,135.7 L940.4,134.6 L941.1,133.4 L941.8,132.2 L942.5,131.0 L943.2,129.8 L943.9,128.6 L944.6,127.4 L945.3,126.2 L946.0,125.0 L946.7,123.8 L947.4,122.6 L948.1,121.4 L948.8,120.2 L949.5,119.0 L950.2,117.8 L950.9,116.6 L951.6,115.4 L952.3,114.2 L953.0,113.0 L953.7,111.9 L954.4,110.7 L955.1,109.5 L955.7,108.4 L956.4,107.3 L957.1,106.1 L957.8,105.0 L958.5,103.9 L959.2,102.9 L959.9,101.8 L960.6,100.8 L961.3,99.7 L962.0,98.7 L962.7,97.7 L963.4,96.8 L964.1,95.8 L964.8,94.9 L965.5,94.0 L966.2,93.1 L966.9,92.2 L967.6,91.4 L968.3,90.6 L969.0,89.8 L969.7,89.1 L970.4,88.4 L971.1,87.7 L971.8,87.0 L972.5,86.4 L973.2,85.8 L973.9,85.3 L974.6,84.7 L975.3,84.2 L976.0,83.8 L976.7,83.4 L977.4,83.0 L978.1,82.7 L978.8,82.4 L979.5,82.1 L980.2,81.9 L980.9,81.7 L981.6,81.6 L982.3,81.4 L983.0,81.4 L983.7,81.3 L984.4,81.3 L985.1,81.3 L985.8,81.4 L986.5,81.5 L987.2,81.6 L987.8,81.7 L988.5,81.9 L989.2,82.1 L989.9,82.3 L990.6,82.6 L991.3,82.8 L992.0,83.1 L992.7,83.5 L993.4,83.8 L994.1,84.2 L994.8,84.6 L995.5,85.0 L996.2,85.4 L996.9,85.9 L997.6,86.4 L998.3,86.9 L999.0,87.4 L999.7,87.9 L1000.4,88.5 L1001.1,89.0 L1001.8,89.6 L1002.5,90.2 L1003.2,90.8 L1003.9,91.4 L1004.6,92.0 L1005.3,92.7 L1006.0,93.3 L1006.7,94.0 L1007.4,94.7 L1008.1,95.3 L1008.8,96.0 L1009.5,96.7 L1010.2,97.4 L1010.9,98.1 L1011.6,98.8 L1012.3,99.5 L1013.0,100.3 L1013.7,101.0 L1014.4,101.7 L1015.1,102.4 L1015.8,103.1 L1016.5,103.9 L1017.2,104.6 L1017.9,105.3 L1018.6,106.0 L1019.3,106.7 L1019.9,107.4 L1020.6,108.1 L1021.3,108.8 L1022.0,109.5 L1022.7,110.2 L1023.4,110.9 L1024.1,111.6 L1024.8,112.2 L1025.5,112.9 L1026.2,113.6 L1026.9,114.2 L1027.6,114.9 L1028.3,115.5 L1029.0,116.2 L1029.7,116.8 L1030.4,117.5 L1031.1,118.1 L1031.8,118.7 L1032.5,119.3 L1033.2,119.9 L1033.9,120.5 L1034.6,121.1 L1035.3,121.7 L1036.0,122.3 L1036.7,122.9 L1037.4,123.4 L1038.1,124.0 L1038.8,124.5 L1039.5,125.1 L1040.2,125.6 L1040.9,126.2 L1041.6,126.7 L1042.3,127.2 L1043.0,127.7 L1043.7,128.2 L1044.4,128.7 L1045.1,129.2 L1045.8,129.7 L1046.5,130.2 L1047.2,130.6 L1047.9,131.1 L1048.6,131.5 L1049.3,132.0 L1050.0,132.4 L1050.7,132.8 L1051.4,133.2 L1052.0,133.6 L1052.7,134.0 L1053.4,134.4 L1054.1,134.8 L1054.8,135.2 L1055.5,135.5 L1056.2,135.9 L1056.9,136.2 L1057.6,136.5 L1058.3,136.9 L1059.0,137.2 L1059.7,137.5 L1060.4,137.8 L1061.1,138.0 L1061.8,138.3 L1062.5,138.6 L1063.2,138.8 L1063.9,139.1 L1064.6,139.3 L1065.3,139.5 L1066.0,139.7 L1066.7,140.0 L1067.4,140.2 L1068.1,140.4 L1068.8,140.5 L1069.5,140.7 L1070.2,140.9 L1070.9,141.1 L1071.6,141.2 L1072.3,141.4 L1073.0,141.5 L1073.7,141.7 L1074.4,141.8 L1075.1,141.9 L1075.8,142.1 L1076.5,142.2 L1077.2,142.3 L1077.9,142.4 L1078.6,142.5 L1079.3,142.6 L1080.0,142.7 L1080.7,142.9 L1081.4,143.0 L1082.1,143.1 L1082.8,143.2 L1083.5,143.3 L1084.1,143.4 L1084.8,143.5 L1085.5,143.5 L1086.2,143.6 L1086.9,143.7 L1087.6,143.8 L1088.3,143.9 L1089.0,144.0 L1089.7,144.1 L1090.4,144.2 L1091.1,144.3 L1091.8,144.4 L1092.5,144.6 L1093.2,144.7 L1093.9,144.8 L1094.6,144.9 L1095.3,145.0 L1096.0,145.1 L1096.7,145.3 L1097.4,145.4 L1098.1,145.5 L1098.8,145.7 L1099.5,145.8 L1100.2,146.0 L1100.9,146.2 L1101.6,146.3 L1102.3,146.5 L1103.0,146.7 L1103.7,146.9 L1104.4,147.1 L1105.1,147.3 L1105.8,147.5 L1106.5,147.7 L1107.2,147.9 L1107.9,148.1 L1108.6,148.4 L1109.3,148.6 L1110.0,148.8 L1110.7,149.1 L1111.4,149.3 L1112.1,149.6 L1112.8,149.9 L1113.5,150.1 L1114.2,150.4 L1114.9,150.7 L1115.6,151.0 L1116.2,151.2 L1116.9,151.5 L1117.6,151.8 L1118.3,152.1 L1119.0,152.4 L1119.7,152.7 L1120.4,153.0 L1121.1,153.3 L1121.8,153.6 L1122.5,154.0 L1123.2,154.3 L1123.9,154.6 L1124.6,154.9 L1125.3,155.2 L1126.0,155.6 L1126.7,155.9 L1127.4,156.2 L1128.1,156.5 L1128.8,156.9 L1129.5,157.2 L1130.2,157.5 L1130.9,157.8 L1131.6,158.2 L1132.3,158.5 L1133.0,158.8 L1133.7,159.1 L1134.4,159.5 L1135.1,159.8 L1135.8,160.1 L1136.5,160.4 L1137.2,160.8 L1137.9,161.1 L1138.6,161.4 L1139.3,161.7 L1140.0,162.0 L1140.7,162.4 L1141.4,162.7 L1142.1,163.0 L1142.8,163.3 L1143.5,163.6 L1144.2,163.9 L1144.9,164.2 L1145.6,164.5 L1146.3,164.8 L1147.0,165.0 L1147.7,165.3 L1148.3,165.6 L1149.0,165.9 L1149.7,166.1 L1150.4,166.4 L1151.1,166.7 L1151.8,167.0 L1152.5,167.2 L1153.2,167.5 L1153.9,167.7 L1154.6,168.0 L1155.3,168.3 L1156.0,168.5 L1156.7,168.8 L1157.4,169.0 L1158.1,169.3 L1158.8,169.5 L1159.5,169.8 L1160.2,170.0 L1160.9,170.3 L1161.6,170.6 L1162.3,170.8 L1163.0,171.1 L1163.7,171.3 L1164.4,171.6 L1165.1,171.8 L1165.8,172.1 L1166.5,172.3 L1167.2,172.6 L1167.9,172.9 L1168.6,173.1 L1169.3,173.4 L1170.0,173.6 L1170.7,173.9 L1171.4,174.2 L1172.1,174.4 L1172.8,174.7 L1173.5,175.0 L1174.2,175.3 L1174.9,175.5 L1175.6,175.8 L1176.3,176.1 L1177.0,176.4 L1177.7,176.7 L1178.4,177.0 L1179.1,177.3 L1179.8,177.6 L1180.4,177.9 L1181.1,178.2 L1181.8,178.5 L1182.5,178.9 L1183.2,179.2 L1183.9,179.5 L1184.6,179.8 L1185.3,180.2 L1186.0,180.5 L1186.7,180.9 L1187.4,181.2 L1188.1,181.6 L1188.8,182.0 L1189.5,182.3 L1190.2,182.7 L1190.9,183.1 L1191.6,183.5 L1192.3,183.9 L1193.0,184.3 L1193.7,184.7 L1194.4,185.1 L1195.1,185.5 L1195.8,185.9 L1196.5,186.3 L1197.2,186.8 L1197.9,187.2 L1198.6,187.6 L1199.3,188.0 L1200.0,188.5 L1200.7,188.9 L1201.4,189.4 L1202.1,189.8 L1202.8,190.3 L1203.5,190.7 L1204.2,191.2 L1204.9,191.7 L1205.6,192.1 L1206.3,192.6 L1207.0,193.1 L1207.7,193.6 L1208.4,194.0 L1209.1,194.5 L1209.8,195.0 L1210.5,195.5 L1211.2,196.0 L1211.9,196.5 L1212.5,197.0 L1213.2,197.5 L1213.9,197.9 L1214.6,198.4 L1215.3,198.9 L1216.0,199.5 L1216.7,200.0 L1217.4,200.5 L1218.1,201.0 L1218.8,201.5 L1219.5,202.0 L1220.2,202.5 L1220.9,203.0 L1221.6,203.5 L1222.3,204.0 L1223.0,204.6 L1223.7,205.1 L1224.4,205.6 L1225.1,206.1 L1225.8,206.6 L1226.5,207.1 L1227.2,207.7 L1227.9,208.2 L1228.6,208.7" fill="none" stroke="#f34141" stroke-width="3.0" stroke-linejoin="round" stroke-linecap="round"/>
<ellipse cx="391.90" cy="655.90" rx="10.8" ry="11.1" fill="#f34141"/>
<ellipse cx="433.74" cy="663.20" rx="10.8" ry="11.1" fill="#f34141"/>
<ellipse cx="475.57" cy="679.40" rx="10.8" ry="11.1" fill="#f34141"/>
<ellipse cx="517.40" cy="730.90" rx="10.8" ry="11.1" fill="#f34141"/>
<ellipse cx="559.24" cy="780.50" rx="10.8" ry="11.1" fill="#f34141"/>
<ellipse cx="601.08" cy="817.30" rx="10.8" ry="11.1" fill="#f34141"/>
<ellipse cx="642.91" cy="852.20" rx="10.8" ry="11.1" fill="#f34141"/>
<ellipse cx="684.75" cy="803.30" rx="10.8" ry="11.1" fill="#f34141"/>
<ellipse cx="726.58" cy="748.00" rx="10.8" ry="11.1" fill="#f34141"/>
<ellipse cx="768.41" cy="722.50" rx="10.8" ry="11.1" fill="#f34141"/>
<ellipse cx="810.25" cy="494.30" rx="10.8" ry="11.1" fill="#f34141"/>
<ellipse cx="852.09" cy="284.40" rx="10.8" ry="11.1" fill="#f34141"/>
<ellipse cx="893.92" cy="195.10" rx="10.8" ry="11.1" fill="#f34141"/>
<ellipse cx="935.75" cy="142.10" rx="10.8" ry="11.1" fill="#f34141"/>
<ellipse cx="977.59" cy="82.90" rx="10.8" ry="11.1" fill="#f34141"/>
<ellipse cx="1019.42" cy="106.90" rx="10.8" ry="11.1" fill="#f34141"/>
<ellipse cx="1061.26" cy="138.10" rx="10.8" ry="11.1" fill="#f34141"/>
<ellipse cx="1103.10" cy="146.70" rx="10.8" ry="11.1" fill="#f34141"/>
<ellipse cx="1144.93" cy="164.20" rx="10.8" ry="11.1" fill="#f34141"/>
<ellipse cx="1186.76" cy="180.90" rx="10.8" ry="11.1" fill="#f34141"/>
<ellipse cx="1228.60" cy="208.70" rx="10.8" ry="11.1" fill="#f34141"/>
<line x1="859.8" y1="787.5" x2="981.6" y2="787.5" stroke="#515151" stroke-width="3.1" stroke-linecap="round"/>
<rect x="911.0" y="777.2" width="19.9" height="20.5" fill="#515151"/>
<line x1="859.8" y1="856.8" x2="981.6" y2="856.8" stroke="#f34141" stroke-width="3.4" stroke-linecap="round"/>
<ellipse cx="920.6" cy="856.7" rx="10.7" ry="11.3" fill="#f34141"/>
<text transform="translate(995.00,805.90) scale(1.0,1.03)" text-anchor="start" font-size="44.6" class="t" xml:space="preserve" style="white-space:pre">Original  structure</text>
<text transform="translate(995.40,875.60) scale(1.0,1.03)" text-anchor="start" font-size="44.6" class="t" xml:space="preserve" style="white-space:pre">New  structure</text>
</svg>
</body></html>
